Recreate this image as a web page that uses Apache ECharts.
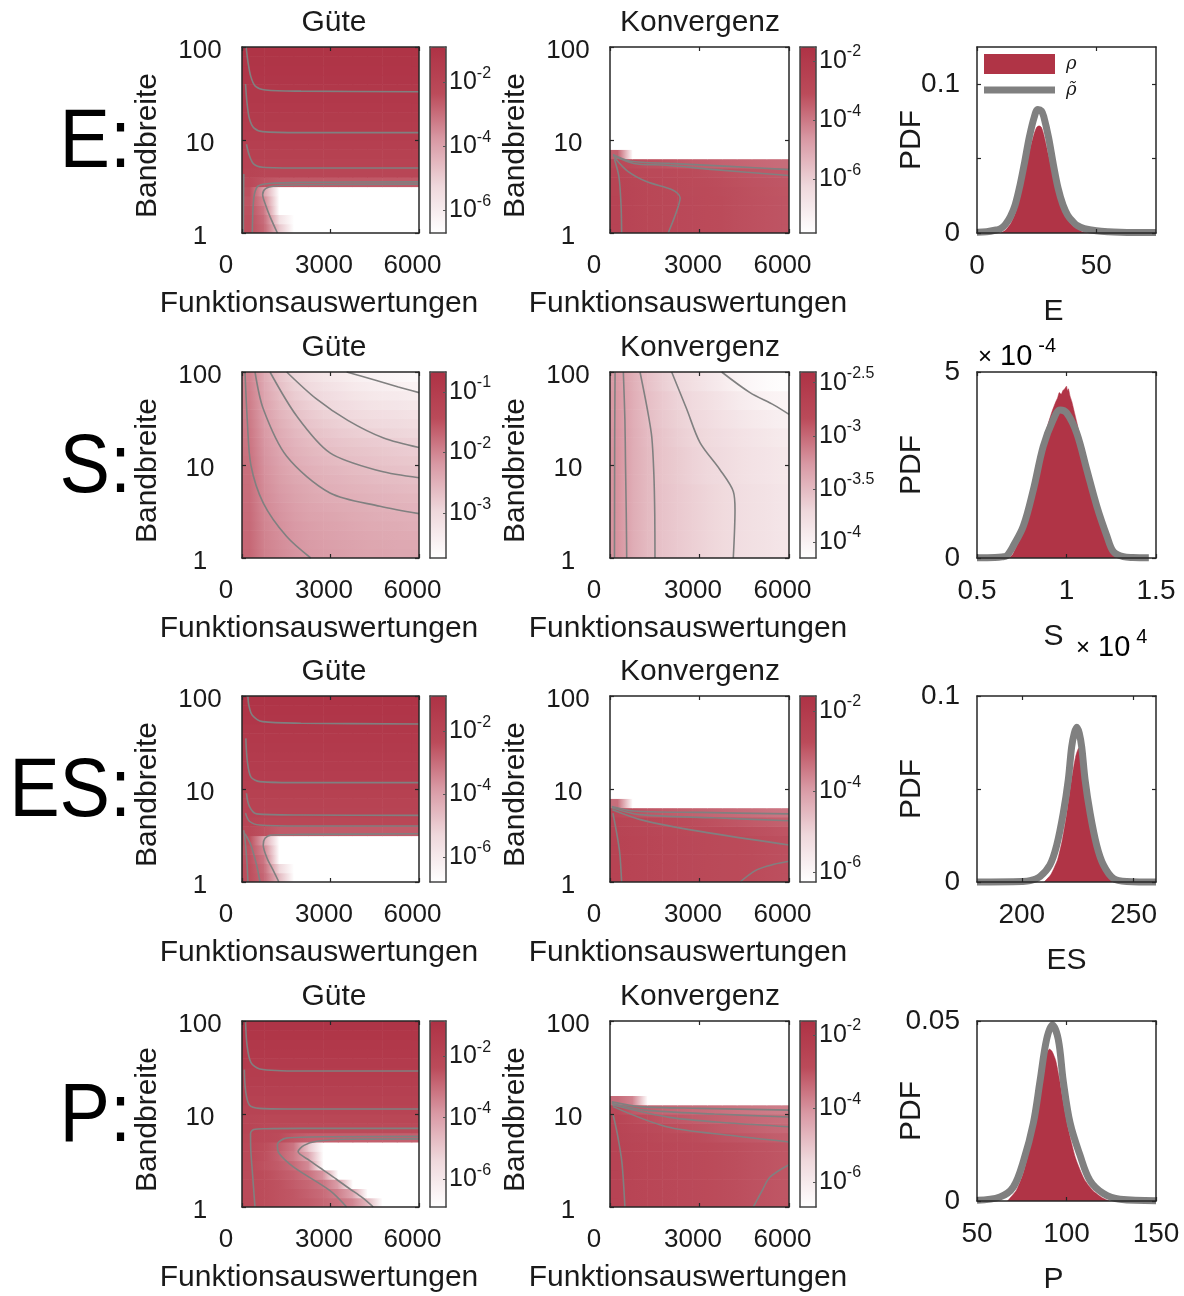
<!DOCTYPE html>
<html>
<head>
<meta charset="utf-8">
<script src="https://cdn.jsdelivr.net/npm/echarts@6/dist/echarts.min.js"></script>
<style>
  html, body { margin: 0; padding: 0; background: #ffffff; }
  #chart { width: 1184px; height: 1296px; }
</style>
</head>
<body>
<div id="chart"></div>
<script>
// ---------------------------------------------------------------------------
// Sampled fields: columns = function evaluations, rows = bandwidth (log grid).
// Each field holds log10 of the quantity; null = outside the colour range.
// ---------------------------------------------------------------------------
const N = null;
const evalEdges = [0, 500, 1000, 1500, 2000, 2500, 3000, 3500, 4000, 4500, 5000, 5500, 6000];
const bandEdges = [1, 1.259, 1.585, 1.995, 2.512, 3.162, 3.981, 5.012, 6.310, 7.943, 10,
                   12.59, 15.85, 19.95, 25.12, 31.62, 39.81, 50.12, 63.10, 79.43, 100];
const evalTicks = [0, 3000, 6000];
const bandTicks = [1, 10, 100];

// ---- E: Güte ----
const gueteE = [
  [-2.4, -2.9, -4.8, N, N, N, N, N, N, N, N, N],
  [-2.4, -3.0, -5.5, N, N, N, N, N, N, N, N, N],
  [-2.45, -3.2, N, N, N, N, N, N, N, N, N, N],
  [-2.5, -3.5, N, N, N, N, N, N, N, N, N, N],
  [-2.4, -4.0, N, N, N, N, N, N, N, N, N, N],
  [-2.2, -2.5, -2.6, -2.6, -2.6, -2.6, -2.6, -2.6, -2.6, -2.6, -2.6, -2.6],
  [-1.95, -2.05, -2.05, -2.05, -2.05, -2.05, -2.05, -2.05, -2.05, -2.05, -2.05, -2.05],
  [-1.85, -1.9, -1.9, -1.9, -1.9, -1.9, -1.9, -1.9, -1.9, -1.9, -1.9, -1.9],
  [-1.75, -1.75, -1.75, -1.75, -1.75, -1.75, -1.75, -1.75, -1.75, -1.75, -1.75, -1.75],
  [-1.65, -1.65, -1.65, -1.65, -1.65, -1.65, -1.65, -1.65, -1.65, -1.65, -1.65, -1.65],
  [-1.55, -1.55, -1.55, -1.55, -1.55, -1.55, -1.55, -1.55, -1.55, -1.55, -1.55, -1.55],
  [-1.47, -1.47, -1.47, -1.47, -1.47, -1.47, -1.47, -1.47, -1.47, -1.47, -1.47, -1.47],
  [-1.4, -1.4, -1.4, -1.4, -1.4, -1.4, -1.4, -1.4, -1.4, -1.4, -1.4, -1.4],
  [-1.33, -1.33, -1.33, -1.33, -1.33, -1.33, -1.33, -1.33, -1.33, -1.33, -1.33, -1.33],
  [-1.27, -1.27, -1.27, -1.27, -1.27, -1.27, -1.27, -1.27, -1.27, -1.27, -1.27, -1.27],
  [-1.22, -1.22, -1.22, -1.22, -1.22, -1.22, -1.22, -1.22, -1.22, -1.22, -1.22, -1.22],
  [-1.16, -1.16, -1.16, -1.16, -1.16, -1.16, -1.16, -1.16, -1.16, -1.16, -1.16, -1.16],
  [-1.1, -1.1, -1.1, -1.1, -1.1, -1.1, -1.1, -1.1, -1.1, -1.1, -1.1, -1.1],
  [-1.05, -1.05, -1.05, -1.05, -1.05, -1.05, -1.05, -1.05, -1.05, -1.05, -1.05, -1.05],
  [-1.0, -1.0, -1.0, -1.0, -1.0, -1.0, -1.0, -1.0, -1.0, -1.0, -1.0, -1.0]
];
const gueteERange = [-6.7, -0.9];
const gueteETicks = [-6, -4, -2];
const gueteELines = [
  [[6000, 33], [2000, 33.5], [800, 34.5], [450, 38], [300, 48], [200, 70], [140, 100]],
  [[6000, 12], [2000, 12], [700, 12.3], [400, 13.5], [250, 17], [170, 25], [120, 40]],
  [[6000, 5.0], [2000, 5.0], [700, 5.1], [400, 5.5], [250, 6.8], [150, 9]],
  [[6000, 3.55], [2000, 3.5], [900, 3.4], [550, 3.2], [430, 2.7], [380, 2.0], [360, 1.4], [350, 1]],
  [[6000, 3.35], [2000, 3.3], [1100, 3.2], [800, 3.0], [700, 2.6], [800, 2.0], [950, 1.5], [1200, 1]],
  [[60, 4.3], [55, 3], [50, 2], [45, 1]]
];

// ---- E: Konvergenz ----
const konvE = [
  [-2.62, -2.72, -2.82, -2.88, -2.94, -3.0, -3.05, -3.1, -3.15, -3.2, -3.24, -3.28],
  [-2.62, -2.72, -2.82, -2.88, -2.94, -3.0, -3.05, -3.1, -3.15, -3.2, -3.24, -3.28],
  [-2.62, -2.72, -2.82, -2.88, -2.94, -3.0, -3.05, -3.1, -3.15, -3.2, -3.24, -3.28],
  [-2.62, -2.72, -2.82, -2.88, -2.94, -3.0, -3.05, -3.1, -3.15, -3.2, -3.24, -3.28],
  [-2.63, -2.73, -2.83, -2.89, -2.95, -3.01, -3.06, -3.11, -3.16, -3.21, -3.25, -3.29],
  [-2.65, -2.76, -2.86, -2.92, -2.98, -3.04, -3.09, -3.14, -3.19, -3.24, -3.28, -3.32],
  [-2.7, -2.85, -2.95, -3.0, -3.05, -3.1, -3.15, -3.2, -3.25, -3.3, -3.34, -3.38],
  [-2.9, -3.1, -3.2, -3.25, -3.35, -3.45, -3.5, -3.55, -3.6, -3.65, -3.7, -3.75],
  [-3.5, N, N, N, N, N, N, N, N, N, N, N],
  [N, N, N, N, N, N, N, N, N, N, N, N],
  [N, N, N, N, N, N, N, N, N, N, N, N],
  [N, N, N, N, N, N, N, N, N, N, N, N],
  [N, N, N, N, N, N, N, N, N, N, N, N],
  [N, N, N, N, N, N, N, N, N, N, N, N],
  [N, N, N, N, N, N, N, N, N, N, N, N],
  [N, N, N, N, N, N, N, N, N, N, N, N],
  [N, N, N, N, N, N, N, N, N, N, N, N],
  [N, N, N, N, N, N, N, N, N, N, N, N],
  [N, N, N, N, N, N, N, N, N, N, N, N],
  [N, N, N, N, N, N, N, N, N, N, N, N]
];
const konvERange = [-7.8, -1.53];
const konvETicks = [-6, -4, -2];
const konvELines = [
  [[100, 7], [700, 5.9], [2000, 5.6], [4000, 5.2], [6000, 4.8]],
  [[100, 6.8], [800, 5.6], [1900, 5.35], [3500, 4.8], [6000, 4.15]],
  [[150, 6.5], [600, 4.6], [1240, 3.55], [2100, 2.9], [2350, 2.4], [2200, 1.6], [1950, 1]],
  [[150, 6.2], [300, 4], [370, 2], [390, 1]]
];

// ---- S: Güte ----
const gueteS = [
  [-1.70, -1.95, -2.05, -2.14, -2.20, -2.23, -2.26, -2.30, -2.33, -2.33, -2.36, -2.36],
  [-1.71, -1.97, -2.07, -2.16, -2.22, -2.26, -2.29, -2.32, -2.35, -2.36, -2.38, -2.39],
  [-1.72, -1.98, -2.09, -2.18, -2.24, -2.28, -2.31, -2.34, -2.37, -2.39, -2.40, -2.42],
  [-1.73, -2.00, -2.11, -2.20, -2.26, -2.30, -2.33, -2.37, -2.40, -2.42, -2.43, -2.45],
  [-1.74, -2.02, -2.14, -2.23, -2.30, -2.33, -2.36, -2.40, -2.43, -2.45, -2.47, -2.48],
  [-1.75, -2.04, -2.16, -2.26, -2.33, -2.37, -2.40, -2.43, -2.46, -2.48, -2.50, -2.52],
  [-1.76, -2.06, -2.19, -2.29, -2.36, -2.41, -2.44, -2.47, -2.50, -2.52, -2.54, -2.56],
  [-1.77, -2.08, -2.22, -2.32, -2.39, -2.45, -2.48, -2.51, -2.54, -2.57, -2.59, -2.61],
  [-1.78, -2.10, -2.25, -2.36, -2.43, -2.49, -2.52, -2.56, -2.59, -2.62, -2.64, -2.66],
  [-1.79, -2.12, -2.28, -2.40, -2.47, -2.53, -2.57, -2.61, -2.64, -2.67, -2.69, -2.71],
  [-1.80, -2.14, -2.31, -2.44, -2.52, -2.58, -2.62, -2.66, -2.69, -2.72, -2.75, -2.77],
  [-1.82, -2.16, -2.34, -2.48, -2.56, -2.63, -2.67, -2.71, -2.74, -2.77, -2.80, -2.83],
  [-1.84, -2.18, -2.38, -2.52, -2.61, -2.68, -2.73, -2.77, -2.80, -2.83, -2.86, -2.89],
  [-1.86, -2.21, -2.42, -2.57, -2.67, -2.74, -2.80, -2.85, -2.89, -2.92, -2.95, -2.98],
  [-1.88, -2.24, -2.46, -2.62, -2.73, -2.81, -2.87, -2.93, -2.98, -3.01, -3.04, -3.07],
  [-1.90, -2.27, -2.51, -2.67, -2.79, -2.88, -2.95, -3.01, -3.07, -3.10, -3.13, -3.16],
  [-1.92, -2.30, -2.56, -2.74, -2.86, -2.96, -3.03, -3.10, -3.16, -3.20, -3.23, -3.26],
  [-1.94, -2.34, -2.61, -2.81, -2.94, -3.04, -3.12, -3.20, -3.26, -3.30, -3.33, -3.37],
  [-1.96, -2.38, -2.66, -2.88, -3.02, -3.13, -3.21, -3.30, -3.36, -3.41, -3.44, -3.48],
  [-1.98, -2.42, -2.72, -2.95, -3.11, -3.22, -3.31, -3.40, -3.47, -3.52, -3.56, -3.60]
];
const gueteSRange = [-3.74, -0.67];
const gueteSTicks = [-3, -2, -1];
const gueteSLines = [
  [[102, 100], [180, 30], [300, 10], [722, 3.9], [1515, 1.7], [2330, 1]],
  [[441, 100], [722, 40], [1515, 12.4], [2983, 5], [4678, 3.6], [6000, 3.0]],
  [[949, 100], [1854, 33.6], [2983, 13.5], [4678, 8.6], [6000, 7.3]],
  [[1515, 100], [2500, 52], [3600, 30], [4800, 19.5], [6000, 15.4]],
  [[3548, 100], [4500, 82], [5300, 69], [6000, 60]]
];

// ---- S: Konvergenz ----
const konvS = [
  [-3.24, -3.40, -3.50, -3.56, -3.61, -3.65, -3.69, -3.73, -3.77, -3.80, -3.83, -3.86],
  [-3.24, -3.40, -3.50, -3.56, -3.61, -3.65, -3.69, -3.73, -3.77, -3.80, -3.83, -3.86],
  [-3.24, -3.40, -3.50, -3.56, -3.61, -3.65, -3.69, -3.73, -3.77, -3.80, -3.83, -3.86],
  [-3.24, -3.40, -3.50, -3.56, -3.61, -3.65, -3.69, -3.73, -3.77, -3.80, -3.83, -3.86],
  [-3.24, -3.40, -3.50, -3.56, -3.61, -3.65, -3.69, -3.73, -3.77, -3.80, -3.83, -3.86],
  [-3.24, -3.40, -3.50, -3.56, -3.61, -3.65, -3.69, -3.73, -3.77, -3.80, -3.83, -3.86],
  [-3.24, -3.40, -3.50, -3.56, -3.61, -3.65, -3.69, -3.73, -3.77, -3.80, -3.83, -3.86],
  [-3.24, -3.40, -3.50, -3.56, -3.61, -3.65, -3.69, -3.73, -3.77, -3.80, -3.83, -3.86],
  [-3.24, -3.40, -3.50, -3.57, -3.62, -3.67, -3.71, -3.75, -3.79, -3.82, -3.85, -3.88],
  [-3.24, -3.40, -3.50, -3.57, -3.62, -3.67, -3.71, -3.75, -3.79, -3.82, -3.85, -3.88],
  [-3.24, -3.40, -3.50, -3.57, -3.62, -3.67, -3.71, -3.75, -3.79, -3.82, -3.85, -3.88],
  [-3.24, -3.40, -3.50, -3.57, -3.62, -3.67, -3.71, -3.75, -3.79, -3.82, -3.85, -3.88],
  [-3.25, -3.40, -3.51, -3.58, -3.64, -3.69, -3.73, -3.77, -3.81, -3.85, -3.88, -3.91],
  [-3.25, -3.40, -3.51, -3.58, -3.64, -3.69, -3.73, -3.77, -3.81, -3.85, -3.88, -3.91],
  [-3.26, -3.41, -3.52, -3.60, -3.66, -3.71, -3.76, -3.81, -3.86, -3.90, -3.94, -3.97],
  [-3.26, -3.41, -3.52, -3.60, -3.66, -3.71, -3.76, -3.81, -3.86, -3.90, -3.94, -3.97],
  [-3.27, -3.41, -3.53, -3.61, -3.68, -3.74, -3.79, -3.85, -3.91, -3.96, -4.00, -4.03],
  [-3.27, -3.41, -3.53, -3.61, -3.68, -3.74, -3.79, -3.85, -3.91, -3.96, -4.00, -4.03],
  [-3.28, -3.42, -3.55, -3.64, -3.72, -3.79, -3.86, -3.93, -4.00, -4.06, -4.10, -4.13],
  [-3.28, -3.42, -3.55, -3.64, -3.72, -3.79, -3.86, -3.93, -4.00, -4.06, -4.10, -4.13]
];
const konvSRange = [-4.15, -2.4];
const konvSTicks = [-4, -3.5, -3, -2.5];
const konvSLines = [
  [[170, 100], [160, 30], [155, 10], [150, 1]],
  [[447, 100], [500, 30], [520, 10], [545, 3], [560, 1]],
  [[1006, 100], [1250, 40], [1400, 20], [1470, 8], [1500, 3], [1508, 1]],
  [[2067, 100], [2570, 40], [3017, 17.4], [3687, 8.9], [4133, 5.2], [4190, 3.3], [4133, 1]],
  [[3743, 100], [4693, 60], [5500, 44], [6000, 35]]
];

// ---- ES: Güte ----
const gueteES = [
  [-2.4, -2.9, -4.6, N, N, N, N, N, N, N, N, N],
  [-2.4, -3.0, -5.3, N, N, N, N, N, N, N, N, N],
  [-2.45, -3.2, N, N, N, N, N, N, N, N, N, N],
  [-2.5, -3.5, N, N, N, N, N, N, N, N, N, N],
  [-2.4, -4.2, N, N, N, N, N, N, N, N, N, N],
  [-2.15, -2.45, -2.65, -2.65, -2.65, -2.65, -2.65, -2.65, -2.65, -2.65, -2.65, -2.65],
  [-1.98, -2.1, -2.1, -2.1, -2.1, -2.1, -2.1, -2.1, -2.1, -2.1, -2.1, -2.1],
  [-1.9, -1.95, -1.95, -1.95, -1.95, -1.95, -1.95, -1.95, -1.95, -1.95, -1.95, -1.95],
  [-1.85, -1.85, -1.85, -1.85, -1.85, -1.85, -1.85, -1.85, -1.85, -1.85, -1.85, -1.85],
  [-1.75, -1.75, -1.75, -1.75, -1.75, -1.75, -1.75, -1.75, -1.75, -1.75, -1.75, -1.75],
  [-1.65, -1.65, -1.65, -1.65, -1.65, -1.65, -1.65, -1.65, -1.65, -1.65, -1.65, -1.65],
  [-1.55, -1.55, -1.55, -1.55, -1.55, -1.55, -1.55, -1.55, -1.55, -1.55, -1.55, -1.55],
  [-1.48, -1.48, -1.48, -1.48, -1.48, -1.48, -1.48, -1.48, -1.48, -1.48, -1.48, -1.48],
  [-1.41, -1.41, -1.41, -1.41, -1.41, -1.41, -1.41, -1.41, -1.41, -1.41, -1.41, -1.41],
  [-1.34, -1.34, -1.34, -1.34, -1.34, -1.34, -1.34, -1.34, -1.34, -1.34, -1.34, -1.34],
  [-1.27, -1.27, -1.27, -1.27, -1.27, -1.27, -1.27, -1.27, -1.27, -1.27, -1.27, -1.27],
  [-1.2, -1.2, -1.2, -1.2, -1.2, -1.2, -1.2, -1.2, -1.2, -1.2, -1.2, -1.2],
  [-1.12, -1.12, -1.12, -1.12, -1.12, -1.12, -1.12, -1.12, -1.12, -1.12, -1.12, -1.12],
  [-1.05, -1.05, -1.05, -1.05, -1.05, -1.05, -1.05, -1.05, -1.05, -1.05, -1.05, -1.05],
  [-0.98, -0.98, -0.98, -0.98, -0.98, -0.98, -0.98, -0.98, -0.98, -0.98, -0.98, -0.98]
];
const gueteESRange = [-6.8, -0.87];
const gueteESTicks = [-6, -4, -2];
const gueteESLines = [
  [[6000, 50], [2000, 51], [700, 53], [350, 62], [230, 80], [200, 100]],
  [[6000, 11.7], [2000, 11.7], [600, 12], [300, 13.5], [180, 20], [130, 35]],
  [[6000, 5.2], [2000, 5.25], [500, 5.4], [250, 6.5], [150, 9]],
  [[6000, 4.0], [2000, 4.0], [600, 4.1], [250, 4.5], [120, 5.5]],
  [[6000, 3.3], [2000, 3.25], [1000, 3.2], [780, 2.95], [720, 2.5], [850, 1.8], [1050, 1.35], [1250, 1]],
  [[60, 3.6], [120, 2.5], [170, 1.6], [200, 1]],
  [[100, 3.3], [300, 2.5], [500, 1.5], [610, 1]]
];

// ---- ES: Konvergenz ----
const konvES = [
  [-2.42, -2.48, -2.53, -2.57, -2.61, -2.65, -2.69, -2.72, -2.75, -2.78, -2.81, -2.84],
  [-2.42, -2.48, -2.53, -2.57, -2.61, -2.65, -2.69, -2.72, -2.75, -2.78, -2.81, -2.84],
  [-2.42, -2.48, -2.53, -2.57, -2.61, -2.65, -2.69, -2.72, -2.75, -2.78, -2.81, -2.84],
  [-2.42, -2.48, -2.53, -2.57, -2.61, -2.65, -2.69, -2.72, -2.75, -2.78, -2.81, -2.84],
  [-2.42, -2.48, -2.53, -2.57, -2.61, -2.65, -2.69, -2.72, -2.75, -2.78, -2.81, -2.84],
  [-2.44, -2.5, -2.55, -2.6, -2.64, -2.68, -2.72, -2.76, -2.8, -2.84, -2.88, -2.92],
  [-2.5, -2.58, -2.64, -2.7, -2.75, -2.8, -2.85, -2.9, -2.95, -3.0, -3.05, -3.1],
  [-2.7, -2.85, -2.95, -3.0, -3.05, -3.1, -3.15, -3.2, -3.25, -3.3, -3.35, -3.4],
  [-3.3, N, N, N, N, N, N, N, N, N, N, N],
  [N, N, N, N, N, N, N, N, N, N, N, N],
  [N, N, N, N, N, N, N, N, N, N, N, N],
  [N, N, N, N, N, N, N, N, N, N, N, N],
  [N, N, N, N, N, N, N, N, N, N, N, N],
  [N, N, N, N, N, N, N, N, N, N, N, N],
  [N, N, N, N, N, N, N, N, N, N, N, N],
  [N, N, N, N, N, N, N, N, N, N, N, N],
  [N, N, N, N, N, N, N, N, N, N, N, N],
  [N, N, N, N, N, N, N, N, N, N, N, N],
  [N, N, N, N, N, N, N, N, N, N, N, N],
  [N, N, N, N, N, N, N, N, N, N, N, N]
];
const konvESRange = [-6.25, -1.63];
const konvESTicks = [-6, -4, -2];
const konvESLines = [
  [[60, 6.5], [800, 5.8], [3000, 5.6], [6000, 5.4]],
  [[60, 6.3], [1000, 5.3], [3500, 4.9], [6000, 4.55]],
  [[80, 6], [1117, 4.6], [3017, 3.5], [6000, 2.5]],
  [[100, 5.5], [250, 3], [330, 2], [390, 1]],
  [[4358, 1], [4916, 1.35], [5500, 1.55], [6000, 1.67]]
];

// ---- P: Güte ----
const gueteP = [
  [-2.3, -2.4, -2.5, -2.6, -2.7, -2.9, -3.1, -3.5, -4.6, N, N, N],
  [-2.3, -2.4, -2.5, -2.6, -2.8, -3.0, -3.4, -4.2, N, N, N, N],
  [-2.3, -2.4, -2.5, -2.7, -2.9, -3.2, -4.0, N, N, N, N, N],
  [-2.3, -2.4, -2.6, -2.8, -3.1, -3.8, N, N, N, N, N, N],
  [-2.3, -2.5, -2.7, -3.0, -3.6, N, N, N, N, N, N, N],
  [-2.25, -2.45, -2.8, -3.3, -4.2, N, N, N, N, N, N, N],
  [-2.2, -2.4, -2.7, -3.2, -5.0, N, N, N, N, N, N, N],
  [-2.1, -2.2, -2.35, -2.6, -2.75, -2.75, -2.75, -2.75, -2.75, -2.75, -2.75, -2.75],
  [-2.0, -2.2, -2.25, -2.3, -2.3, -2.3, -2.3, -2.3, -2.3, -2.3, -2.3, -2.3],
  [-2.05, -2.1, -2.1, -2.1, -2.1, -2.1, -2.1, -2.1, -2.1, -2.1, -2.1, -2.1],
  [-1.95, -1.95, -1.95, -1.95, -1.95, -1.95, -1.95, -1.95, -1.95, -1.95, -1.95, -1.95],
  [-1.8, -1.8, -1.8, -1.8, -1.8, -1.8, -1.8, -1.8, -1.8, -1.8, -1.8, -1.8],
  [-1.7, -1.7, -1.7, -1.7, -1.7, -1.7, -1.7, -1.7, -1.7, -1.7, -1.7, -1.7],
  [-1.6, -1.6, -1.6, -1.6, -1.6, -1.6, -1.6, -1.6, -1.6, -1.6, -1.6, -1.6],
  [-1.5, -1.5, -1.5, -1.5, -1.5, -1.5, -1.5, -1.5, -1.5, -1.5, -1.5, -1.5],
  [-1.4, -1.4, -1.4, -1.4, -1.4, -1.4, -1.4, -1.4, -1.4, -1.4, -1.4, -1.4],
  [-1.3, -1.3, -1.3, -1.3, -1.3, -1.3, -1.3, -1.3, -1.3, -1.3, -1.3, -1.3],
  [-1.2, -1.2, -1.2, -1.2, -1.2, -1.2, -1.2, -1.2, -1.2, -1.2, -1.2, -1.2],
  [-1.1, -1.1, -1.1, -1.1, -1.1, -1.1, -1.1, -1.1, -1.1, -1.1, -1.1, -1.1],
  [-1.0, -1.0, -1.0, -1.0, -1.0, -1.0, -1.0, -1.0, -1.0, -1.0, -1.0, -1.0]
];
const guetePRange = [-6.9, -0.86];
const guetePTicks = [-6, -4, -2];
const guetePLines = [
  [[6000, 29], [2000, 29], [600, 30.5], [300, 36], [170, 55], [120, 100]],
  [[6000, 11.3], [2000, 11.3], [600, 11.5], [250, 12.5], [120, 18], [80, 30]],
  [[6000, 7.0], [2000, 7.0], [800, 6.95], [400, 6.8], [290, 6.2], [300, 4], [370, 2], [440, 1]],
  [[6000, 5.75], [3000, 5.7], [1500, 5.5], [1200, 4.7], [1250, 3.8], [1740, 2.7], [2983, 1.5], [3548, 1]],
  [[6000, 5.4], [3500, 5.35], [2531, 5.1], [2100, 4.6], [1900, 3.94], [2297, 3.16], [2743, 2.51],
   [3190, 2.0], [3636, 1.58], [4082, 1.26], [4450, 1]]
];

// ---- P: Konvergenz ----
const konvP = [
  [-2.5, -2.58, -2.65, -2.7, -2.75, -2.8, -2.85, -2.9, -2.94, -2.98, -3.02, -3.06],
  [-2.5, -2.58, -2.65, -2.7, -2.75, -2.8, -2.85, -2.9, -2.94, -2.98, -3.02, -3.06],
  [-2.5, -2.58, -2.65, -2.7, -2.75, -2.8, -2.85, -2.9, -2.94, -2.98, -3.02, -3.06],
  [-2.5, -2.58, -2.65, -2.7, -2.75, -2.8, -2.85, -2.9, -2.94, -2.98, -3.02, -3.06],
  [-2.5, -2.58, -2.65, -2.7, -2.75, -2.8, -2.85, -2.9, -2.94, -2.98, -3.02, -3.06],
  [-2.5, -2.58, -2.65, -2.7, -2.75, -2.8, -2.85, -2.9, -2.94, -2.98, -3.02, -3.06],
  [-2.5, -2.58, -2.65, -2.7, -2.75, -2.8, -2.85, -2.9, -2.94, -2.98, -3.02, -3.06],
  [-2.52, -2.62, -2.7, -2.76, -2.82, -2.88, -2.94, -3.0, -3.05, -3.1, -3.15, -3.2],
  [-2.55, -2.7, -2.8, -2.88, -2.95, -3.0, -3.06, -3.12, -3.18, -3.24, -3.3, -3.35],
  [-2.6, -2.85, -2.95, -3.05, -3.1, -3.15, -3.2, -3.25, -3.3, -3.35, -3.4, -3.45],
  [-2.8, -3.1, -3.2, -3.3, -3.35, -3.4, -3.45, -3.5, -3.55, -3.6, -3.65, -3.7],
  [-3.4, -3.8, N, N, N, N, N, N, N, N, N, N],
  [N, N, N, N, N, N, N, N, N, N, N, N],
  [N, N, N, N, N, N, N, N, N, N, N, N],
  [N, N, N, N, N, N, N, N, N, N, N, N],
  [N, N, N, N, N, N, N, N, N, N, N, N],
  [N, N, N, N, N, N, N, N, N, N, N, N],
  [N, N, N, N, N, N, N, N, N, N, N, N],
  [N, N, N, N, N, N, N, N, N, N, N, N],
  [N, N, N, N, N, N, N, N, N, N, N, N]
];
const konvPRange = [-6.68, -1.62];
const konvPTicks = [-6, -4, -2];
const konvPLines = [
  [[60, 13.5], [1000, 12], [3000, 11.5], [6000, 11]],
  [[60, 13], [1200, 11], [3500, 10], [6000, 9.3]],
  [[80, 12.5], [2000, 9.2], [4000, 8], [6000, 7.3]],
  [[100, 12], [1900, 7.3], [4000, 5.9], [6000, 5.0]],
  [[100, 10], [250, 6], [400, 3], [500, 1]],
  [[4804, 1], [5100, 1.5], [5363, 2.1], [6000, 2.85]]
];

// ---------------------------------------------------------------------------
// Probability densities: histogram (rho) and fitted density (rho tilde)
// ---------------------------------------------------------------------------
const pdfEHist = [[10, 0], [12, 0.002], [14, 0.006], [16, 0.013], [18, 0.024], [20, 0.039], [22, 0.055],
  [24, 0.067], [25, 0.071], [26, 0.072], [27, 0.071], [28, 0.066], [30, 0.052], [32, 0.037], [34, 0.024],
  [36, 0.015], [38, 0.009], [40, 0.005], [42, 0.003], [44, 0.001], [46, 0]];
const pdfECurve = [[0, 0.0005], [4, 0.0008], [8, 0.002], [10, 0.003], [12, 0.006], [14, 0.011], [16, 0.019],
  [18, 0.032], [20, 0.048], [22, 0.065], [24, 0.078], [25.5, 0.083], [27, 0.082], [28, 0.078], [30, 0.064],
  [32, 0.046], [34, 0.030], [36, 0.019], [38, 0.012], [40, 0.008], [42, 0.005], [45, 0.003], [50, 0.0015],
  [55, 0.0008], [60, 0.0005], [70, 0.0003], [75, 0.0003]];

// S in units of 1e4 (x) and 1e-4 (density)
const pdfSHist = [[0.68, 0], [0.70, 0.1], [0.72, 0.3], [0.74, 0.5], [0.76, 0.8], [0.78, 1.1], [0.80, 1.5],
  [0.82, 1.95], [0.84, 2.4], [0.86, 2.85], [0.88, 3.3], [0.90, 3.65], [0.92, 3.95], [0.94, 4.2], [0.95, 4.3],
  [0.96, 4.45], [0.97, 4.4], [0.98, 4.5], [0.99, 4.55], [1.0, 4.62], [1.005, 4.5], [1.01, 4.55], [1.02, 4.35],
  [1.03, 4.2], [1.04, 4.0], [1.06, 3.6], [1.08, 3.15], [1.10, 2.7], [1.12, 2.25], [1.14, 1.8], [1.16, 1.4],
  [1.18, 1.05], [1.2, 0.75], [1.22, 0.5], [1.24, 0.32], [1.26, 0.2], [1.28, 0.1], [1.3, 0.05], [1.32, 0]];
const pdfSCurve = [[0.5, 0.01], [0.6, 0.015], [0.64, 0.03], [0.666, 0.06], [0.703, 0.33], [0.759, 0.86],
  [0.815, 1.84], [0.87, 3.0], [0.926, 3.72], [0.964, 3.98], [1.001, 3.9], [1.057, 3.36], [1.113, 2.38],
  [1.169, 1.4], [1.225, 0.6], [1.262, 0.17], [1.317, 0.035], [1.37, 0.015], [1.46, 0.01]];

const pdfESHist = [[210, 0], [213, 0.004], [216, 0.012], [218, 0.022], [220, 0.036], [222, 0.053],
  [224, 0.067], [225.5, 0.072], [227, 0.069], [229, 0.056], [231, 0.040], [233, 0.025], [235, 0.014],
  [237, 0.007], [240, 0.002], [243, 0]];
const pdfESCurve = [[180, 0], [200, 0.0003], [203.7, 0.0007], [208.2, 0.003], [212.6, 0.0092],
  [215.6, 0.0197], [218.6, 0.0374], [220.8, 0.055], [222.3, 0.0726], [223.5, 0.080], [224.6, 0.0832],
  [225.7, 0.080], [226.8, 0.0726], [228.3, 0.055], [230.5, 0.0374], [233.5, 0.0197], [236.5, 0.0092],
  [240.9, 0.002], [246.9, 0.0003], [260, 0]];

const pdfPHist = [[67, 0], [72, 0.003], [76, 0.008], [80, 0.016], [84, 0.027], [87, 0.036], [89, 0.041],
  [90.5, 0.0422], [92, 0.0415], [94, 0.039], [96, 0.034], [98, 0.028], [101, 0.020], [105, 0.012],
  [110, 0.006], [115, 0.0028], [120, 0.0009], [124, 0]];
const pdfPCurve = [[50, 0.0002], [62.8, 0.0011], [70.3, 0.0039], [75.9, 0.011], [81.5, 0.0217],
  [85.2, 0.0333], [88.9, 0.0449], [92.1, 0.0489], [95.4, 0.0449], [98.2, 0.0333], [102, 0.0217],
  [107.5, 0.0128], [113.1, 0.0057], [120.6, 0.0021], [129.9, 0.0005], [150, 0.0001]];

const rowLabels = ['E:', 'S:', 'ES:', 'P:'];
const fieldTitles = ['Güte', 'Konvergenz'];
const legendNames = ['ρ', 'ρ\u0303'];

// ---------------------------------------------------------------------------
// Styling and layout
// ---------------------------------------------------------------------------
const FONT = '"Liberation Sans", Arial, Helvetica, sans-serif';
const INK = '#1a1a1a';
const FRAME = '#262626';
const BAR_FRAME = '#444444';
const RED = '#B03446';
const GREY = '#808080';
const CMAP = ['#ffffff', '#efd8dc', '#d99aa5', '#bb4b5a', '#ae3245'];

const rowTop = [47, 372, 696, 1021];
const H = 186;
const colGuete = { left: 242, width: 177, barLeft: 430, barWidth: 16, titleX: 334 };
const colKonv = { left: 610, width: 179, barLeft: 800, barWidth: 16, titleX: 700 };
const colPdf = { left: 977, width: 179 };

const rows = [
  {
    guete: { field: gueteE, range: gueteERange, ticks: gueteETicks, lines: gueteELines },
    konv: { field: konvE, range: konvERange, ticks: konvETicks, lines: konvELines },
    pdf: { hist: pdfEHist, curve: pdfECurve, x: [0, 75], xLabels: [0, 50], y: 0.125, yLabels: [0, 0.1],
           yTicks: [0, 0.05, 0.1], name: 'E', namePad: 26, histName: legendNames[0], curveName: legendNames[1] }
  },
  {
    guete: { field: gueteS, range: gueteSRange, ticks: gueteSTicks, lines: gueteSLines },
    konv: { field: konvS, range: konvSRange, ticks: konvSTicks, lines: konvSLines },
    pdf: { hist: pdfSHist, curve: pdfSCurve, x: [0.5, 1.5], xLabels: [0.5, 1, 1.5], y: 5, yLabels: [0, 5],
           yTicks: [0, 5], name: 'S', namePad: 26, yScale: '-4', xScale: '4' }
  },
  {
    guete: { field: gueteES, range: gueteESRange, ticks: gueteESTicks, lines: gueteESLines },
    konv: { field: konvES, range: konvESRange, ticks: konvESTicks, lines: konvESLines },
    pdf: { hist: pdfESHist, curve: pdfESCurve, x: [180, 260], xLabels: [200, 250], y: 0.1, yLabels: [0, 0.1],
           yTicks: [0, 0.05, 0.1], name: 'ES', namePad: 0 }
  },
  {
    guete: { field: gueteP, range: guetePRange, ticks: guetePTicks, lines: guetePLines },
    konv: { field: konvP, range: konvPRange, ticks: konvPTicks, lines: konvPLines },
    pdf: { hist: pdfPHist, curve: pdfPCurve, x: [50, 150], xLabels: [50, 100, 150], y: 0.05, yLabels: [0, 0.05],
           yTicks: [0, 0.05], name: 'P', namePad: 26 }
  }
];

// ---------------------------------------------------------------------------
// Option assembly
// ---------------------------------------------------------------------------
const option = {
  animation: false,
  backgroundColor: '#ffffff',
  textStyle: { fontFamily: FONT },
  title: [], grid: [], xAxis: [], yAxis: [], series: [], visualMap: [], graphic: [],
  legend: {
    left: 984, top: 54, padding: 0, orient: 'vertical', itemWidth: 71, itemHeight: 20, itemGap: 7,
    selectedMode: false, symbolKeepAspect: true,
    textStyle: { fontFamily: '"DejaVu Serif", serif', fontStyle: 'italic', fontSize: 18, color: INK,
                 padding: [0, 0, 0, 6] },
    data: [{ name: legendNames[0], icon: 'rect' },
           { name: legendNames[1], icon: 'path://M0,0H71V7H0Z' }]
  }
};

const txt = (size) => ({ fontFamily: FONT, fontSize: size, color: INK });

function frameAxis(type, gridIndex, min, max, position, ticks, lineColor, extra) {
  const ax = {
    type, gridIndex, min, max, position, z: 10, nameMoveOverlap: false,
    axisLine: { show: true, onZero: false, lineStyle: { color: lineColor || FRAME, width: 1.5 } },
    axisTick: ticks ? { show: true, inside: true, length: 4, customValues: ticks,
                        lineStyle: { color: lineColor || FRAME, width: 1.2 } } : { show: false },
    axisLabel: { show: false },
    splitLine: { show: false },
    axisPointer: { show: false }
  };
  if (type === 'log') ax.logBase = 10;
  return Object.assign(ax, extra || {});
}

// one data item per sample cell: [x0, x1, y0, y1, level, column]
function fieldCells(field) {
  const out = [];
  field.forEach((row, r) => row.forEach((v, c) => {
    out.push([evalEdges[c], evalEdges[c + 1], bandEdges[r], bandEdges[r + 1], v === null ? NaN : v, c]);
  }));
  return out;
}

// shaded cells: colour runs smoothly from one sample centre to the next along a row
function renderCell(params, api) {
  const i = params.dataIndexInside;
  const col = api.value(5);
  const lastCol = evalEdges.length - 2;
  const colorAt = (k) => (isNaN(api.value(4, k)) ? '#ffffff' : api.visual('color', k));
  const here = colorAt(i);
  const x0 = api.value(0), x1 = api.value(1), xc = (x0 + x1) / 2;
  const pLo = api.coord([x0, api.value(2)]);
  const pHi = api.coord([x1, api.value(3)]);
  const pc = api.coord([xc, api.value(2)]);
  const yTop = pHi[1], h = pLo[1] - pHi[1] + 0.6;
  const children = [];
  if (col === 0) {
    children.push({ type: 'rect', shape: { x: pLo[0], y: yTop, width: pc[0] - pLo[0] + 0.6, height: h },
                    style: { fill: here } });
  }
  if (col === lastCol) {
    children.push({ type: 'rect', shape: { x: pc[0], y: yTop, width: pHi[0] - pc[0] + 0.6, height: h },
                    style: { fill: here } });
  } else {
    const next = colorAt(i + 1);
    const nx = api.coord([(api.value(0, i + 1) + api.value(1, i + 1)) / 2, api.value(2)]);
    children.push({
      type: 'rect', shape: { x: pc[0], y: yTop, width: nx[0] - pc[0] + 0.6, height: h },
      style: { fill: new echarts.graphic.LinearGradient(0, 0, 1, 0, [
        { offset: 0, color: here }, { offset: 1, color: next }]) }
    });
  }
  return { type: 'group', children };
}

const powerLabel = (v) => '{b|10}{s|' + v + '}';
const powerRich = {
  b: { fontFamily: FONT, fontSize: 25, color: INK, lineHeight: 34 },
  s: { fontFamily: FONT, fontSize: 16, color: INK, lineHeight: 16, verticalAlign: 'top' }
};

function addField(panel, col, top, title) {
  const g = option.grid.length;
  option.grid.push({ left: col.left, top, width: col.width, height: H });
  const xi = option.xAxis.length;
  option.xAxis.push(frameAxis('value', g, 0, 6000, 'bottom', evalTicks, null, {
    axisLabel: {
      show: true, customValues: evalTicks, margin: 20, fontSize: 26, color: INK, fontFamily: FONT,
      formatter: (v) => (v === 0 ? '{z|0}' : '{n|' + v + '}'),
      rich: { z: Object.assign(txt(26), { padding: [0, 32, 0, 0] }),
              n: Object.assign(txt(26), { padding: [0, 13, 0, 0] }) }
    },
    name: 'Funktionsauswertungen', nameLocation: 'middle', nameGap: 56,
    nameTextStyle: Object.assign(txt(30), { padding: [0, 23, 0, 0] })
  }));
  option.xAxis.push(frameAxis('value', g, 0, 6000, 'top', evalTicks));
  const yi = option.yAxis.length;
  option.yAxis.push(frameAxis('log', g, 1, 100, 'left', bandTicks, null, {
    axisLabel: { show: true, customValues: bandTicks, margin: 42, align: 'center', fontSize: 26,
                 color: INK, fontFamily: FONT,
                 formatter: (v) => '{t|' + v + '}',
                 rich: { t: Object.assign(txt(26), { padding: [7, 0, 0, 0] }) } },
    name: 'Bandbreite', nameLocation: 'middle', nameGap: 79, nameRotate: 90,
    nameTextStyle: Object.assign(txt(30), { padding: [0, 11, 0, 0] })
  }));
  option.yAxis.push(frameAxis('log', g, 1, 100, 'right', bandTicks));

  const si = option.series.length;
  option.series.push({
    type: 'custom', xAxisIndex: xi, yAxisIndex: yi, silent: true, clip: true, z: 1,
    dimensions: ['x0', 'x1', 'y0', 'y1', 'level', 'col'],
    encode: { x: [0, 1], y: [2, 3] },
    renderItem: renderCell,
    data: fieldCells(panel.field)
  });
  panel.lines.forEach((line) => option.series.push({
    type: 'line', xAxisIndex: xi, yAxisIndex: yi, data: line, symbol: 'none', smooth: 0.3,
    silent: true, z: 3, lineStyle: { color: GREY, width: 1.6 }, itemStyle: { color: GREY }
  }));

  // colour bar: gradient from the visual map, frame and labels from a value axis
  option.visualMap.push({
    type: 'continuous', seriesIndex: si, dimension: 4, min: panel.range[0], max: panel.range[1],
    inRange: { color: CMAP }, orient: 'vertical', left: col.barLeft, top, padding: 0,
    itemWidth: col.barWidth, itemHeight: H, calculable: false, hoverLink: false, text: null
  });
  const cg = option.grid.length;
  option.grid.push({ left: col.barLeft, top, width: col.barWidth, height: H });
  option.xAxis.push(frameAxis('value', cg, 0, 1, 'bottom', null, BAR_FRAME));
  option.xAxis.push(frameAxis('value', cg, 0, 1, 'top', null, BAR_FRAME));
  option.yAxis.push(frameAxis('value', cg, panel.range[0], panel.range[1], 'left', null, BAR_FRAME));
  option.yAxis.push(frameAxis('value', cg, panel.range[0], panel.range[1], 'right', panel.ticks, BAR_FRAME, {
    axisTick: { show: true, inside: true, length: 3, customValues: panel.ticks,
                lineStyle: { color: '#555555', width: 1 } },
    axisLabel: { show: true, customValues: panel.ticks, margin: 3, formatter: powerLabel, rich: powerRich }
  }));

  option.title.push({
    text: title, left: col.titleX, top: top - 39, textAlign: 'center', padding: 0,
    textStyle: Object.assign(txt(30), { fontWeight: 'normal' })
  });
}

const scaleRich = {
  m: txt(24),
  b: Object.assign(txt(29), { lineHeight: 42 }),
  s: Object.assign(txt(20), { lineHeight: 18, verticalAlign: 'top', padding: [0, 0, 0, 6] })
};

function addPdf(p, top) {
  const g = option.grid.length;
  option.grid.push({ left: colPdf.left, top, width: colPdf.width, height: H });
  const xi = option.xAxis.length;
  option.xAxis.push(frameAxis('value', g, p.x[0], p.x[1], 'bottom', p.xLabels, null, {
    axisLabel: { show: true, customValues: p.xLabels, margin: 19, fontSize: 28, color: INK, fontFamily: FONT },
    name: p.name, nameLocation: 'middle', nameGap: 64,
    nameTextStyle: Object.assign(txt(30), { padding: [0, p.namePad, 0, 0] })
  }));
  option.xAxis.push(frameAxis('value', g, p.x[0], p.x[1], 'top', p.xLabels));
  const yi = option.yAxis.length;
  option.yAxis.push(frameAxis('value', g, 0, p.y, 'left', p.yTicks, null, {
    axisLabel: { show: true, customValues: p.yLabels, margin: 17, fontSize: 28, color: INK, fontFamily: FONT },
    name: 'PDF', nameLocation: 'middle', nameGap: 50, nameRotate: 90, nameTextStyle: txt(30)
  }));
  option.yAxis.push(frameAxis('value', g, 0, p.y, 'right', p.yTicks));

  option.series.push({
    type: 'line', name: p.histName || ('rho ' + p.name), xAxisIndex: xi, yAxisIndex: yi,
    data: p.hist, symbol: 'none', smooth: 0.2, silent: true, z: 2,
    lineStyle: { color: RED, width: 0.5 }, itemStyle: { color: RED }, areaStyle: { color: RED, opacity: 1 }
  });
  option.series.push({
    type: 'line', name: p.curveName || ('fit ' + p.name), xAxisIndex: xi, yAxisIndex: yi,
    data: p.curve, symbol: 'none', smooth: 0.35, silent: true, z: 3, clip: false,
    lineStyle: { color: GREY, width: 7 }, itemStyle: { color: GREY }
  });

  if (p.yScale) {
    option.graphic.push({
      type: 'text', x: 978, y: top - 15, z: 20,
      style: { text: '{m|×}{b| 10}{s|' + p.yScale + '}', align: 'left', verticalAlign: 'middle', rich: scaleRich }
    });
  }
  if (p.xScale) {
    option.graphic.push({
      type: 'text', x: 1076, y: top + H + 90, z: 20,
      style: { text: '{m|×}{b| 10}{s|' + p.xScale + '}', align: 'left', verticalAlign: 'middle', rich: scaleRich }
    });
  }
}

rows.forEach((row, i) => {
  const top = rowTop[i];
  addField(row.guete, colGuete, top, fieldTitles[0]);
  addField(row.konv, colKonv, top, fieldTitles[1]);
  addPdf(row.pdf, top);
  option.graphic.push({
    type: 'text', x: 131, y: top + H / 2 + 4, z: 20, scaleX: 0.9,
    style: { text: rowLabels[i], fontFamily: FONT, fontSize: 84, fill: '#000000',
             align: 'right', verticalAlign: 'middle' }
  });
});

const chart = echarts.init(document.getElementById('chart'), null, { renderer: 'canvas' });
chart.setOption(option);
</script>
</body>
</html>
